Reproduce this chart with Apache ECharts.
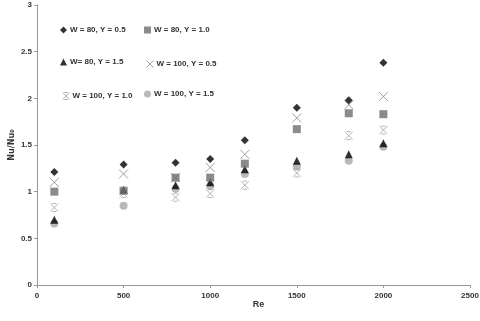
<!DOCTYPE html>
<html><head><meta charset="utf-8">
<script src="https://cdn.jsdelivr.net/npm/echarts@6/dist/echarts.min.js"></script>
<style>html,body{margin:0;padding:0;background:#fff}#c{width:480px;height:321px}</style>
</head><body><div id="c"></div>
<script>
var re = [100, 500, 800, 1000, 1200, 1500, 1800, 2000];
var names = ['W = 80, Y = 0.5', 'W = 80, Y = 1.0', 'W= 80, Y = 1.5', 'W = 100, Y = 0.5', 'W = 100, Y = 1.0', 'W = 100, Y = 1.5'];
var w80y05  = [1.21, 1.29, 1.31, 1.35, 1.55, 1.90, 1.98, 2.38];
var w80y10  = [1.00, 1.01, 1.15, 1.15, 1.30, 1.67, 1.84, 1.83];
var w80y15  = [0.70, 1.02, 1.07, 1.10, 1.24, 1.33, 1.40, 1.52];
var w100y05 = [1.10, 1.19, 1.15, 1.26, 1.40, 1.79, 1.93, 2.02];
var w100y10 = [0.83, 0.98, 0.94, 0.98, 1.07, 1.20, 1.60, 1.66];
var w100y15 = [0.66, 0.85, 1.03, 1.06, 1.19, 1.27, 1.33, 1.48];
var xTicks = [0, 500, 1000, 1500, 2000, 2500];
var yTicks = [0, 0.5, 1, 1.5, 2, 2.5, 3];

var X_PATH = 'path://M0,0L10,10M10,0L0,10';
var STAR_PATH = 'path://M0,0L10,10M10,0L0,10M2.5,0L7.5,0M2.5,10L7.5,10';
var styles = [
  {symbol: 'diamond', size: 8, item: {color: '#000'}},
  {symbol: 'rect', size: 8, item: {color: '#6e6e6e'}},
  {symbol: 'triangle', size: 8, item: {color: '#000'}},
  {symbol: X_PATH, size: 9, item: {color: 'none', borderColor: '#8a8a8a', borderWidth: 1}},
  {symbol: STAR_PATH, size: 8, item: {color: 'none', borderColor: '#a0a0a0', borderWidth: 1}},
  {symbol: 'circle', size: 8, item: {color: '#a8a8a8'}}
];
var dataSets = [w80y05, w80y10, w80y15, w100y05, w100y10, w100y15];

function pairs(arr) { return re.map(function (r, i) { return [r, arr[i]]; }); }

var series = dataSets.map(function (d, i) {
  return {
    name: names[i], type: 'scatter', data: pairs(d),
    symbol: styles[i].symbol, symbolSize: styles[i].size,
    itemStyle: styles[i].item, z: 10 - i
  };
});

var legendPos = [[55, 21], [139, 21], [55, 53], [139, 53], [55, 85], [139, 85]];
var legends = names.map(function (n, i) {
  return {
    data: [{name: n, icon: styles[i].symbol, itemStyle: styles[i].item}],
    left: legendPos[i][0], top: legendPos[i][1],
    itemWidth: 7, itemHeight: 7, itemGap: 2,
    textStyle: {fontSize: 8, fontWeight: 'bold', color: '#333', fontFamily: 'Liberation Sans Narrow, Liberation Sans, Arial', padding: [0, 0, 0, -2]},
    selectedMode: false
  };
});

var chart = echarts.init(document.getElementById('c'));
chart.setOption({
  animation: false,
  backgroundColor: '#fff',
  legend: legends,
  grid: {left: 37, right: 10, top: 5, bottom: 36, containLabel: false, outerBoundsMode: 'none'},
  xAxis: {
    type: 'value', min: 0, max: 2500, interval: 500,
    name: 'Re', nameLocation: 'middle', nameGap: 15, nameMoveOverlap: false,
    nameTextStyle: {fontSize: 9, fontWeight: 'bold', color: '#333', padding: [0, 0, 0, 10], fontFamily: 'Liberation Sans, Arial'},
    axisLine: {lineStyle: {color: '#999'}},
    axisTick: {show: true, length: 3, lineStyle: {color: '#999'}},
    axisLabel: {fontSize: 8, fontWeight: 'bold', color: '#333', margin: 7, fontFamily: 'Liberation Sans Narrow, Liberation Sans, Arial',
      formatter: function (v) { return xTicks.indexOf(v) >= 0 ? String(v) : ''; }},
    splitLine: {show: false}
  },
  yAxis: {
    type: 'value', min: 0, max: 3, interval: 0.5,
    name: 'Nu/Nu\u2080', nameLocation: 'middle', nameGap: 21, nameMoveOverlap: false,
    nameTextStyle: {fontSize: 9, fontWeight: 'bold', color: '#333', fontFamily: 'DejaVu Sans Condensed, Liberation Sans, Arial'},
    axisLine: {show: true, lineStyle: {color: '#999'}},
    axisTick: {show: true, length: 3, lineStyle: {color: '#999'}},
    axisLabel: {fontSize: 8, fontWeight: 'bold', color: '#333', margin: 5, fontFamily: 'Liberation Sans Narrow, Liberation Sans, Arial',
      formatter: function (v) { return yTicks.indexOf(v) >= 0 ? String(v) : ''; }},
    splitLine: {show: false}
  },
  series: series
});
</script></body></html>
